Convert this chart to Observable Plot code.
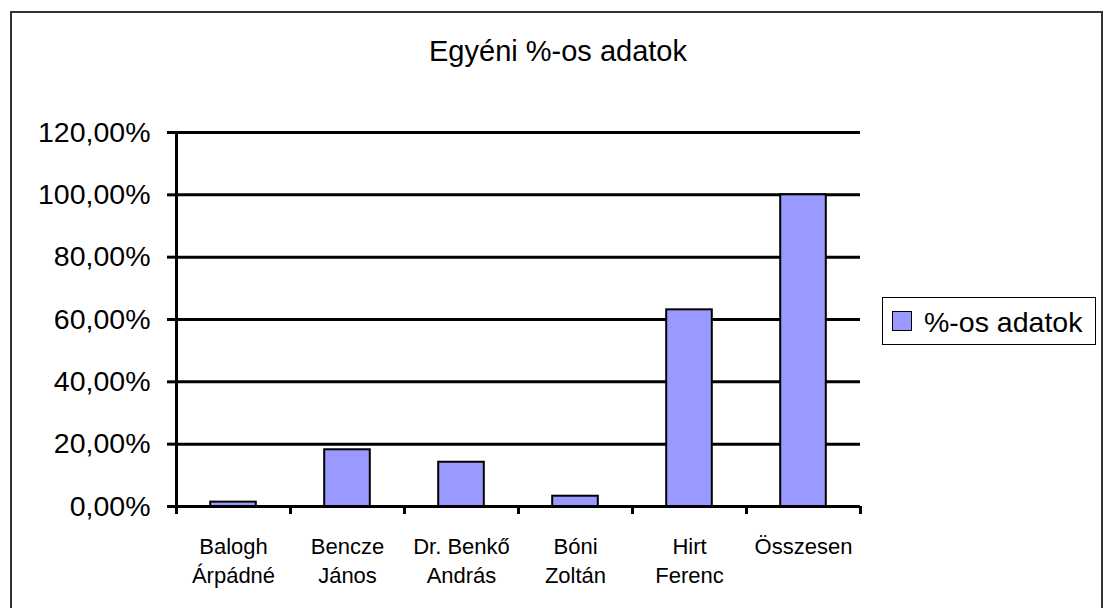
<!DOCTYPE html>
<html>
<head>
<meta charset="utf-8">
<script src="https://cdn.jsdelivr.net/npm/d3@7"></script>
<script src="https://cdn.jsdelivr.net/npm/@observablehq/plot@0.6"></script>
<style>
  html, body { margin: 0; padding: 0; background: #fff; overflow: hidden; }
  #wrap { position: relative; width: 1110px; height: 608px; font-family: "Liberation Sans", Arial, sans-serif; color: #000; }
  #border { position: absolute; left: 10px; top: 11px; width: 1093px; height: 640px; border: 2px solid #333; box-sizing: border-box; }
  #title { position: absolute; left: 308px; width: 500px; top: 37px; text-align: center; font-size: 29px; line-height: 29px; }
  #chart { position: absolute; left: 0; top: 0; }
  #legend { position: absolute; left: 882px; top: 297px; width: 214px; height: 48px; border: 1.5px solid #000; box-sizing: border-box; background: #fff; }
  #legend .sw { position: absolute; left: 9px; top: 13px; width: 20px; height: 20px; border: 1.5px solid #000; box-sizing: border-box; background: #9999ff; }
  #legend .lb { position: absolute; left: 41px; top: 10px; font-size: 28.5px; line-height: 28px; white-space: nowrap; }
</style>
</head>
<body>
<div id="wrap">
  <div id="border"></div>
  <div id="chart"></div>
  <div id="title"></div>
  <div id="legend"><div class="sw"></div><div class="lb"></div></div>
</div>
<script>
const title = "Egyéni %-os adatok";
const seriesName = "%-os adatok";
const categories = ["Balogh\nÁrpádné", "Bencze\nJános", "Dr. Benkő\nAndrás", "Bóni\nZoltán", "Hirt\nFerenc", "Összesen"];
const values = [0.014, 0.182, 0.142, 0.033, 0.631, 1.0];
const yTicks = [0, 0.2, 0.4, 0.6, 0.8, 1.0, 1.2];

document.getElementById("title").textContent = title;
document.querySelector("#legend .lb").textContent = seriesName;

const data = categories.map((c, i) => ({cat: c, i, value: values[i]}));
const fmt = d => (d * 100).toFixed(2).replace(".", ",") + "%";

const chart = Plot.plot({
  width: 1110,
  height: 608,
  marginTop: 132,
  marginBottom: 102,
  marginLeft: 176,
  marginRight: 250,
  style: {fontFamily: "'Liberation Sans', Arial, sans-serif", color: "#000", background: "transparent"},
  x: {domain: [0, categories.length], axis: null},
  y: {domain: [0, 1.2], axis: null},
  marks: [
    Plot.ruleY(yTicks, {stroke: "#000", strokeWidth: 3}),
    Plot.axisY({ticks: yTicks, tickFormat: fmt, label: null, tickSize: 9, tickPadding: 17, fontSize: 28.5, strokeWidth: 3, stroke: "#000", strokeOpacity: 1}),
    Plot.axisX({ticks: d3.range(categories.length + 1), tickFormat: () => "", label: null, tickSize: 8, strokeWidth: 3, stroke: "#000", strokeOpacity: 1}),
    Plot.frame({anchor: "left", stroke: "#000", strokeWidth: 3}),
    Plot.rect(data, {x1: d => d.i + 0.3, x2: d => d.i + 0.7, y1: 0, y2: "value", fill: "#9999ff", stroke: "#000", strokeWidth: 2}),
    Plot.text(data, {x: d => d.i + 0.5, frameAnchor: "bottom", text: "cat", lineAnchor: "top", dy: 27, fontSize: 22, lineHeight: 1.32, fill: "#000"})
  ]
});
document.getElementById("chart").appendChild(chart);
</script>
</body>
</html>
